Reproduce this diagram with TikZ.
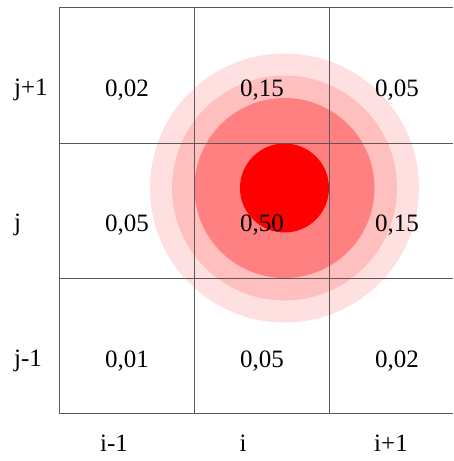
\documentclass[tikz,border=0pt]{standalone}
\usepackage{fontspec}
\setmainfont{Liberation Serif}
\begin{document}
\begin{tikzpicture}[x=1pt,y=-1pt,
  lbl/.style={inner sep=0pt,font=\fontsize{25}{30}\selectfont},
  gridline/.style={draw=black!65,line width=1pt}]
\useasboundingbox (0,0) rectangle (453,461);
\fill[white] (0,0) rectangle (453,461);
% circles
\fill[red!12] (284.5,188) circle (134.5);
\fill[red!25] (284.5,188) circle (112.5);
\fill[red!50] (284.5,188) circle (90);
\fill[red] (284.5,188) circle (44.5);
% grid
\draw[gridline] (453,7.5) -- (59,7.5) -- (59,413) -- (453,413);
\draw[gridline] (59,143) -- (453,143);
\draw[gridline] (59,278) -- (453,278);
\draw[gridline] (194,7.5) -- (194,413);
\draw[gridline] (329,7.5) -- (329,413);
% values
\node[lbl] (a1) at (127,90) {0,02};
\node[lbl] (a2) at (262,90) {0,15};
\node[lbl] (a3) at (397,90) {0,05};
\node[lbl] (b1) at (127,225) {0,05};
\node[lbl] (b2) at (262,225) {0,50};
\node[lbl] (b3) at (397,225) {0,15};
\node[lbl] (c1) at (127,361) {0,01};
\node[lbl] (c2) at (262,361) {0,05};
\node[lbl] (c3) at (397,361) {0,02};
% row labels
\node[lbl,anchor=west] (r1) at (14,90) {j+1};
\node[lbl,anchor=west] (r2) at (14,225) {j};
\node[lbl,anchor=west] (r3) at (14,361) {j-1};
% column labels
\node[lbl] (k1) at (114,443) {i-1};
\node[lbl] (k2) at (243,443) {i};
\node[lbl] (k3) at (391,443) {i+1};
\end{tikzpicture}
\end{document}
